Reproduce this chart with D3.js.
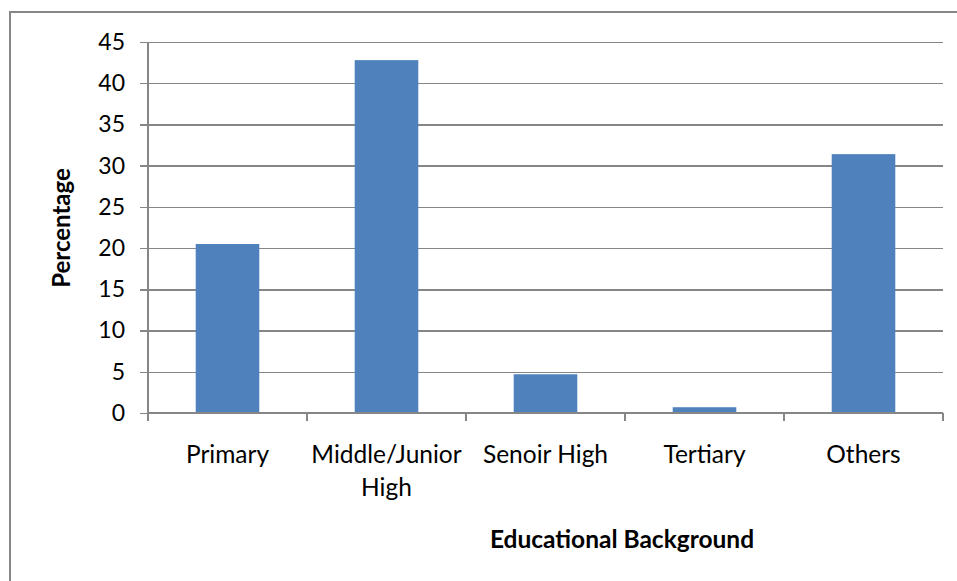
<!DOCTYPE html>
<html>
<head>
<meta charset="utf-8">
<script src="https://cdn.jsdelivr.net/npm/d3@7"></script>
<style>
  html, body { margin: 0; padding: 0; background: #fff; }
  svg { display: block; }
  text { font-family: Lato, "Noto Sans", sans-serif; fill: #000; }
</style>
</head>
<body>
<script>
// Educational background of respondents (%)
const categories = ["Primary", "Middle/Junior High", "Senoir High", "Tertiary", "Others"];
const percentages = [20.5, 42.8, 4.7, 0.7, 31.4];
const yTicks = [0, 5, 10, 15, 20, 25, 30, 35, 40, 45];
const xTitle = "Educational Background";
const yTitle = "Percentage";

const W = 957, H = 581;
const plot = { left: 148, right: 943, top: 42, bottom: 413 };
const axisGrey = "#868686";
const barBlue = "#4F81BD";

const svg = d3.select("body").append("svg")
  .attr("width", W).attr("height", H);

// chart frame
svg.append("rect")
  .attr("x", 10).attr("y", 12)
  .attr("width", W + 20).attr("height", H + 20)
  .attr("fill", "none")
  .attr("stroke", axisGrey)
  .attr("stroke-width", 2);

const y = d3.scaleLinear().domain([0, 45]).range([plot.bottom, plot.top]);

// one slot per category; bars sit in the middle 40% of each slot
const slot = d3.scaleBand().domain(categories).range([plot.left, plot.right]).padding(0);
const x = d3.scaleBand().domain(categories).range([plot.left, plot.right])
  .paddingInner(0.6).paddingOuter(0.3);

// horizontal gridlines with y ticks
const yAxis = d3.axisLeft(y)
  .tickValues(yTicks)
  .tickSize(-(plot.right - plot.left))
  .tickSizeOuter(0)
  .tickPadding(23)
  .tickFormat(d3.format("d"));

const gy = svg.append("g")
  .attr("transform", `translate(${plot.left},0)`)
  .call(yAxis);
gy.select(".domain").remove();
gy.selectAll(".tick line")
  .attr("x1", -8)
  .attr("stroke", axisGrey)
  .attr("stroke-width", 1.4)
  .attr("shape-rendering", "crispEdges");
gy.selectAll(".tick text")
  .attr("font-size", 23)
  .attr("font-family", "Lato, sans-serif")
  .attr("fill", "#000");

// bars
svg.append("g").selectAll("rect")
  .data(categories.map((c, i) => ({ c, v: percentages[i] })))
  .join("rect")
  .attr("x", d => x(d.c))
  .attr("width", x.bandwidth())
  .attr("y", d => y(d.v))
  .attr("height", d => y(0) - y(d.v))
  .attr("fill", barBlue);

// vertical axis line
svg.append("line")
  .attr("x1", plot.left).attr("x2", plot.left)
  .attr("y1", plot.top).attr("y2", plot.bottom + 8)
  .attr("stroke", axisGrey).attr("stroke-width", 1.6)
  .attr("shape-rendering", "crispEdges");

// horizontal axis line and category boundary ticks
svg.append("line")
  .attr("x1", plot.left).attr("x2", plot.right)
  .attr("y1", y(0)).attr("y2", y(0))
  .attr("stroke", axisGrey).attr("stroke-width", 1.6)
  .attr("shape-rendering", "crispEdges");
const bounds = categories.map(c => slot(c)).concat([plot.right]);
svg.append("g").selectAll("line")
  .data(bounds)
  .join("line")
  .attr("x1", d => d).attr("x2", d => d)
  .attr("y1", y(0)).attr("y2", y(0) + 8)
  .attr("stroke", axisGrey).attr("stroke-width", 1.6)
  .attr("shape-rendering", "crispEdges");

// category labels (wrapped to fit each slot)
const labelLines = {
  "Primary": ["Primary"],
  "Middle/Junior High": ["Middle/Junior", "High"],
  "Senoir High": ["Senoir High"],
  "Tertiary": ["Tertiary"],
  "Others": ["Others"]
};
const lab = svg.append("g").selectAll("text")
  .data(categories)
  .join("text")
  .attr("x", d => slot(d) + slot.bandwidth() / 2)
  .attr("y", 463)
  .attr("text-anchor", "middle")
  .attr("font-size", 24.5);
lab.selectAll("tspan")
  .data(d => labelLines[d].map(t => ({ t, x: slot(d) + slot.bandwidth() / 2 })))
  .join("tspan")
  .attr("x", d => d.x)
  .attr("dy", (d, i) => i === 0 ? 0 : 33)
  .text(d => d.t);

// axis titles
svg.append("text")
  .attr("x", 622)
  .attr("y", 548)
  .attr("text-anchor", "middle")
  .attr("font-size", 24.5)
  .attr("font-weight", "bold")
  .text(xTitle);

svg.append("text")
  .attr("transform", "translate(70,228) rotate(-90)")
  .attr("text-anchor", "middle")
  .attr("font-size", 24)
  .attr("font-weight", "bold")
  .text(yTitle);
</script>
</body>
</html>
